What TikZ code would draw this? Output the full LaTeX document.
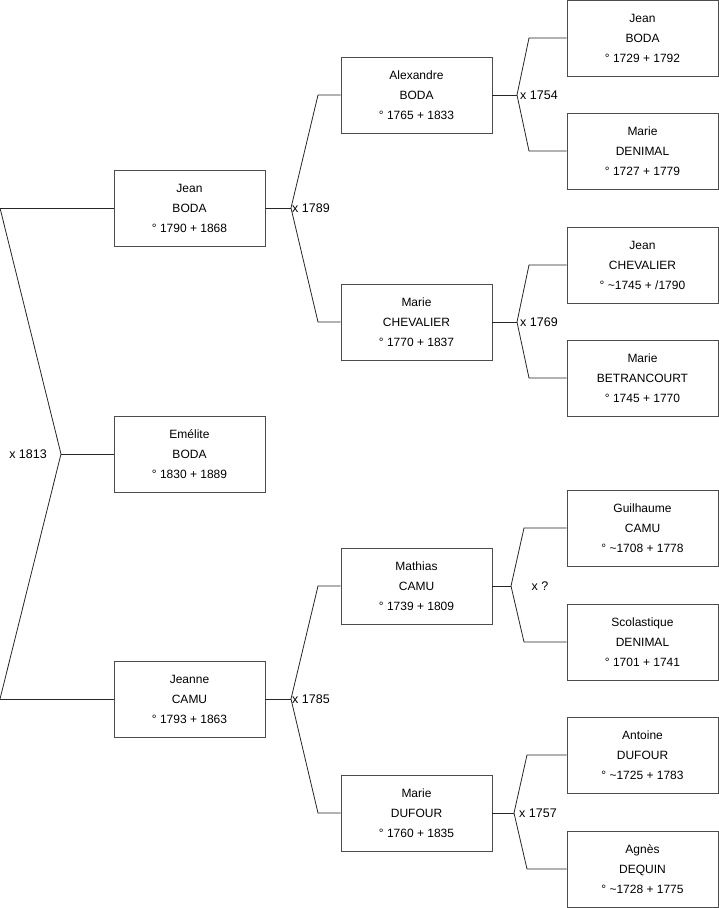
\documentclass[tikz,border=0pt]{standalone}
\usepackage{fontspec}
\setmainfont{Liberation Sans}
\usetikzlibrary{positioning,calc}

\begin{document}
\begin{tikzpicture}[x=1pt,y=-1pt,
  person/.style={draw=black!70,line width=0.9pt,minimum width=151pt,minimum height=76pt,inner sep=0pt,align=center,font=\fontsize{12}{20}\selectfont},
  link/.style={draw=black!85,line width=0.8pt},
  wed/.style={font=\fontsize{12.5}{14}\selectfont,inner sep=1pt}]
\useasboundingbox (0,0) rectangle (719,908);
% generation 1
\node[person] (jean) at (189.5,208) {Jean\\BODA\\° 1790 + 1868};
\node[person] (emelite) at (189.5,454) {Emélite\\BODA\\° 1830 + 1889};
\node[person] (jeanne) at (189.5,699) {Jeanne\\CAMU\\° 1793 + 1863};
% generation 2
\node[person] (alex) at (416.5,95) {Alexandre\\BODA\\° 1765 + 1833};
\node[person] (mchev) at (416.5,322) {Marie\\CHEVALIER\\° 1770 + 1837};
\node[person] (mathias) at (416.5,586) {Mathias\\CAMU\\° 1739 + 1809};
\node[person] (mduf) at (416.5,813) {Marie\\DUFOUR\\° 1760 + 1835};
% generation 3
\node[person] (jboda) at (642.5,38) {Jean\\BODA\\° 1729 + 1792};
\node[person] (mden) at (642.5,151) {Marie\\DENIMAL\\° 1727 + 1779};
\node[person] (jchev) at (642.5,265) {Jean\\CHEVALIER\\° \textasciitilde 1745 + /1790};
\node[person] (mbet) at (642.5,378) {Marie\\BETRANCOURT\\° 1745 + 1770};
\node[person] (guil) at (642.5,528) {Guilhaume\\CAMU\\° \textasciitilde 1708 + 1778};
\node[person] (scol) at (642.5,642) {Scolastique\\DENIMAL\\° 1701 + 1741};
\node[person] (ant) at (642.5,755) {Antoine\\DUFOUR\\° \textasciitilde 1725 + 1783};
\node[person] (agn) at (642.5,869) {Agnès\\DEQUIN\\° \textasciitilde 1728 + 1775};
% forks
\coordinate (m0) at (61,454); \coordinate (t0) at (0,208); \coordinate (b0) at (0,699);
\draw[link] (emelite.west)--(m0); \draw[link] (t0)--(m0)--(b0);
\draw[link] (t0)--(jean.west); \draw[link] (b0)--(jeanne.west);
\node[wed,anchor=east] (w0) at (48,454) {x 1813};
\coordinate (k1) at (291,208); \coordinate (u1) at (318,95); \coordinate (d1) at (318,322);
\draw[link] (jean.east)--(k1); \draw[link] (alex.west)--(u1)--(k1)--(d1)--(mchev.west);
\node[wed,anchor=west] (w1) at (k1) {x 1789};
\coordinate (k2) at (291,699); \coordinate (u2) at (318,586); \coordinate (d2) at (318,813);
\draw[link] (jeanne.east)--(k2); \draw[link] (mathias.west)--(u2)--(k2)--(d2)--(mduf.west);
\node[wed,anchor=west] (w2) at (k2) {x 1785};
\coordinate (k3) at (517,95); \coordinate (u3) at (529,38); \coordinate (d3) at (529,151);
\draw[link] (alex.east)--(k3); \draw[link] (jboda.west)--(u3)--(k3)--(d3)--(mden.west);
\node[wed,anchor=west] (w3) at ([xshift=2pt]k3) {x 1754};
\coordinate (k4) at (517,322); \coordinate (u4) at (529,265); \coordinate (d4) at (529,378);
\draw[link] (mchev.east)--(k4); \draw[link] (jchev.west)--(u4)--(k4)--(d4)--(mbet.west);
\node[wed,anchor=west] (w4) at ([xshift=2pt]k4) {x 1769};
\coordinate (k5) at (511,586); \coordinate (u5) at (524,528); \coordinate (d5) at (524,642);
\draw[link] (mathias.east)--(k5); \draw[link] (guil.west)--(u5)--(k5)--(d5)--(scol.west);
\node[wed] (w5) at (540,586) {x ?};
\coordinate (k6) at (514,813); \coordinate (u6) at (527,755); \coordinate (d6) at (527,869);
\draw[link] (mduf.east)--(k6); \draw[link] (ant.west)--(u6)--(k6)--(d6)--(agn.west);
\node[wed,anchor=west] (w6) at ([xshift=4pt]k6) {x 1757};
\end{tikzpicture}
\end{document}
